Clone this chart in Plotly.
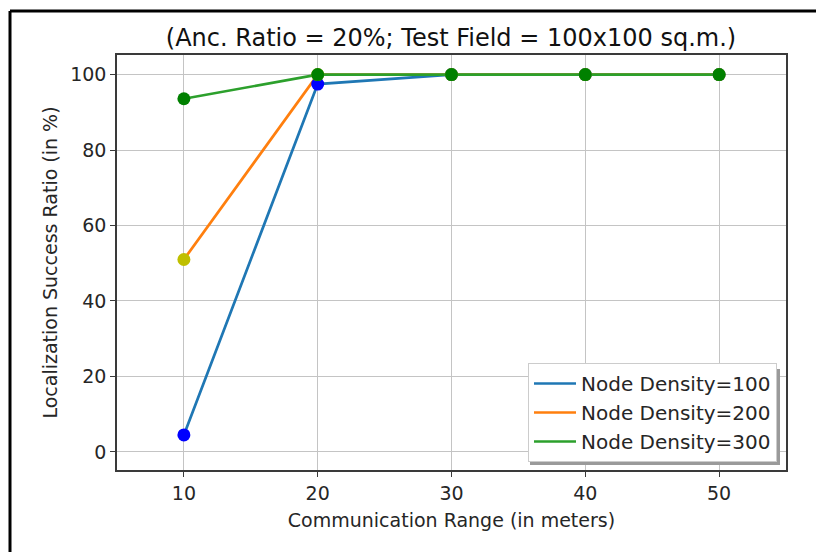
import plotly.graph_objects as go

# Localization success ratio vs. communication range, per node density
comm_range = [10, 20, 30, 40, 50]
density_labels = ["Node Density=100", "Node Density=200", "Node Density=300"]
success_100 = [4.5, 97.5, 100, 100, 100]
success_200 = [51.0, 100, 100, 100, 100]
success_300 = [93.6, 100, 100, 100, 100]

x_ticks = [10, 20, 30, 40, 50]
y_ticks = [0, 20, 40, 60, 80, 100]

line_colors = ["#1f77b4", "#ff7f0e", "#2ca02c"]
marker_colors = ["#0000ff", "#bfbf00", "#008000"]
series = [success_100, success_200, success_300]

FONT = "DejaVu Sans"
TEXT = "#262626"
FS = 19

fig = go.Figure()

# lines (these carry the legend)
for name, ys, lc in zip(density_labels, series, line_colors):
    fig.add_trace(go.Scatter(
        x=comm_range, y=ys, mode="lines", name=name,
        line=dict(color=lc, width=2.7),
    ))

# point markers drawn on top, not in the legend
for ys, mc in zip(series, marker_colors):
    fig.add_trace(go.Scatter(
        x=comm_range, y=ys, mode="markers", showlegend=False,
        marker=dict(color=mc, size=13, line=dict(width=0)),
        hoverinfo="skip",
    ))

L, R, T, B = 117, 30, 55, 82
W, H = 816, 552
pw, ph = W - L - R, H - T - B

def px_x(px):
    return (px - L) / pw

def px_y(py):
    return (H - B - py) / ph

axis_common = dict(
    showgrid=True, gridcolor="#c4c4c4", gridwidth=1.4,
    showline=True, linecolor="#3a3a3a", linewidth=1.5, mirror=True,
    ticks="outside", ticklen=5, tickwidth=1.3, tickcolor="#3a3a3a",
    tickfont=dict(family=FONT, size=FS, color=TEXT),
    zeroline=False,
)

fig.update_layout(
    width=W, height=H,
    margin=dict(l=L, r=R, t=T, b=B),
    paper_bgcolor="white", plot_bgcolor="white",
    title=dict(
        text="(Anc. Ratio = 20%; Test Field = 100x100 sq.m.)",
        x=px_x(451), xanchor="center", xref="paper",
        y=1 - 38 / H, yanchor="middle",
        font=dict(family=FONT, size=24, color="#111111"),
    ),
    xaxis=dict(
        range=[5, 55], tickvals=x_ticks,
        title=dict(text="Communication Range (in meters)",
                   font=dict(family=FONT, size=FS, color=TEXT), standoff=11),
        **axis_common,
    ),
    yaxis=dict(
        range=[-4.8, 105.2], tickvals=y_ticks,
        title=dict(text="Localization Success Ratio (in %)",
                   font=dict(family=FONT, size=FS, color=TEXT), standoff=8),
        **axis_common,
    ),
    legend=dict(
        x=px_x(777), xanchor="right", y=px_y(462), yanchor="bottom",
        bgcolor="white", bordercolor="#cccccc", borderwidth=1,
        font=dict(family=FONT, size=20, color=TEXT),
        itemwidth=42, tracegroupgap=0,
    ),
    showlegend=True,
)

# soft drop shadow behind the legend box
fig.add_shape(type="rect", xref="paper", yref="paper",
              x0=px_x(530), x1=px_x(780), y0=px_y(465), y1=px_y(369),
              fillcolor="#9a9a9a", line=dict(width=0), layer="above")

# outer frame lines (top and left)
fig.add_shape(type="line", xref="paper", yref="paper",
              x0=px_x(10), x1=px_x(820), y0=px_y(11), y1=px_y(11),
              line=dict(color="black", width=3), layer="above")
fig.add_shape(type="line", xref="paper", yref="paper",
              x0=px_x(10), x1=px_x(10), y0=px_y(11), y1=px_y(560),
              line=dict(color="black", width=3), layer="above")

fig.write_html("out.html")
